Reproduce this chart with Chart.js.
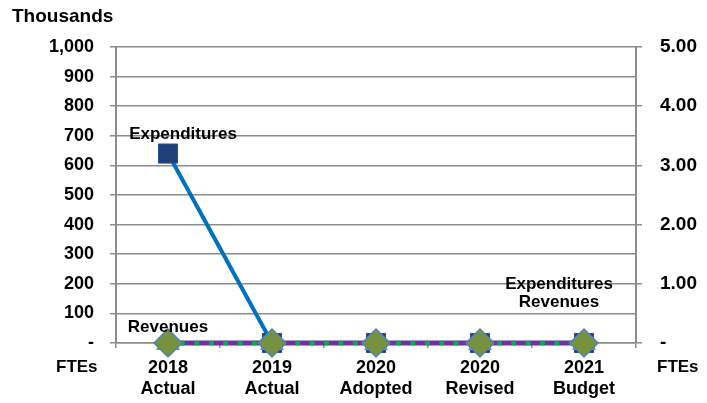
<!DOCTYPE html>
<html><head><meta charset="utf-8">
<script src="https://cdn.jsdelivr.net/npm/chart.js@4/dist/chart.umd.min.js"></script>
<style>html,body{margin:0;padding:0;background:#fff}#wrap{width:707px;height:403px}</style>
</head><body><div id="wrap"><canvas id="c" width="707" height="403"></canvas></div>
<script>
const categories = [['2018','Actual'],['2019','Actual'],['2020','Adopted'],['2020','Revised'],['2021','Budget']];
const expenditures = [640, 0, 0, 0, 0];
const revenues = [0, 0, 0, 0, 0];
const ftes = [0, 0, 0, 0, 0];
const leftTickLabels = {1000:'1,000',900:'900',800:'800',700:'700',600:'600',500:'500',400:'400',300:'300',200:'200',100:'100',0:'-'};
const rightTickLabels = {5:'5.00',4:'4.00',3:'3.00',2:'2.00',1:'1.00',0:'-'};

const FONT = "'Liberation Sans', Arial, sans-serif";
const GRAY = '#8c8c8c';

const annot = {
  id: 'annot',
  afterDatasetsDraw(chart) {
    const ctx = chart.ctx;
    const x = chart.scales.x, y = chart.scales.y;
    const ca = chart.chartArea;
    ctx.save();
    ctx.fillStyle = '#000';
    ctx.textBaseline = 'middle';
    ctx.font = 'bold 17px ' + FONT;
    ctx.textAlign = 'center';
    const x0 = x.getPixelForValue(0), y0e = y.getPixelForValue(expenditures[0]);
    ctx.fillText('Expenditures', x0 + 15, y0e - 19);
    const yr = y.getPixelForValue(revenues[0]);
    ctx.fillText('Revenues', x0, yr - 16);
    const xl = x.getPixelForValue(categories.length - 1);
    const yl = y.getPixelForValue(expenditures[expenditures.length-1]);
    ctx.fillText('Expenditures', xl - 25, yl - 59);
    ctx.fillText('Revenues', xl - 25, yl - 41);
    ctx.textAlign = 'left';
    ctx.font = 'bold 19px ' + FONT;
    ctx.fillText('Thousands', 12, 17);
    ctx.font = 'bold 17px ' + FONT;
    ctx.fillText('FTEs', ca.left - 60, ca.bottom + 24);
    ctx.fillText('FTEs', ca.right + 21, ca.bottom + 24);
    ctx.restore();
  }
};

new Chart(document.getElementById('c'), {
  type: 'line',
  data: {
    labels: categories,
    datasets: [
      { label: 'Expenditures', data: expenditures, yAxisID: 'y', order: 5, clip: false,
        borderColor: '#0070c0', borderWidth: 4, pointStyle: 'rect', pointRadius: 13.5,
        pointBackgroundColor: '#1f3f7a', pointBorderColor: '#2a4f8a', pointBorderWidth: 1 },
      { label: 'Revenues', data: revenues, yAxisID: 'y', order: 4, clip: false,
        borderColor: '#7030a0', borderWidth: 5, pointRadius: 0 },
      { label: 'FTEs', data: ftes, yAxisID: 'y2', order: 3, clip: false,
        borderColor: '#00b050', borderWidth: 5, borderDash: [0.1, 14.3], borderCapStyle: 'round',
        pointStyle: 'triangle', pointRadius: 9, pointBackgroundColor: '#8c8c8c', pointBorderColor: '#8c8c8c' },
      { label: 'Revenues markers', data: revenues, yAxisID: 'y', order: 1, showLine: false, clip: false,
        pointStyle: 'rectRot', pointRadius: 14, pointBackgroundColor: '#76923c', pointBorderColor: '#4f81bd', pointBorderWidth: 1.5 }
    ]
  },
  options: {
    responsive: false, animation: false,
    layout: { padding: { top: 47, left: 0, right: 0, bottom: 0 } },
    plugins: { legend: { display: false }, tooltip: { enabled: false } },
    scales: {
      x: {
        offset: true,
        grid: { offset: true, drawOnChartArea: false, tickLength: 5, color: GRAY, lineWidth: 1.5 },
        border: { color: GRAY, width: 1.5 },
        ticks: { color: '#000', font: { family: FONT, size: 18, weight: 'bold' }, padding: 9, maxRotation: 0, autoSkip: false },
        afterFit(s) { s.height = 60; }
      },
      y: {
        position: 'left', min: 0, max: 1000,
        ticks: { stepSize: 100, color: '#000', font: { family: FONT, size: 18, weight: 'bold' }, padding: 16,
          callback: v => leftTickLabels[v] },
        grid: { color: GRAY, lineWidth: 1.5, tickLength: 6 },
        border: { color: GRAY, width: 2 },
        afterFit(s) { s.width = 116; }
      },
      y2: {
        position: 'right', min: 0, max: 5,
        ticks: { stepSize: 1, color: '#000', font: { family: FONT, size: 19, weight: 'bold' }, padding: 18,
          callback: v => rightTickLabels[v] },
        grid: { drawOnChartArea: false, color: GRAY, lineWidth: 1.5, tickLength: 6 },
        border: { color: GRAY, width: 2 },
        afterFit(s) { s.width = 71; }
      }
    }
  },
  plugins: [annot]
});
</script></body></html>
